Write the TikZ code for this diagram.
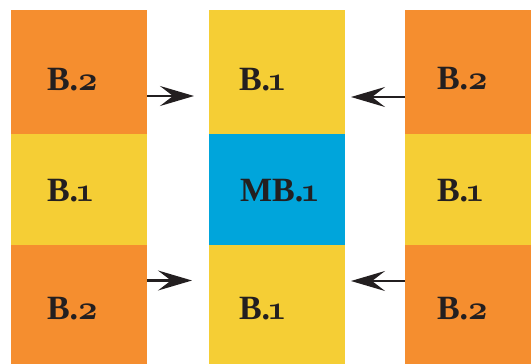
\documentclass[tikz,border=0pt]{standalone}
\usepackage{fontspec}
\setmainfont{Liberation Serif}
\usepackage{tikz}
\usetikzlibrary{arrows.meta}
\definecolor{blkorange}{RGB}{245,142,47}
\definecolor{blkyellow}{RGB}{245,206,53}
\definecolor{blkblue}{RGB}{0,165,219}
\definecolor{inkdark}{RGB}{35,31,32}
\font\osnfont=cmmib10 at 34pt
\newcommand{\osn}[1]{{\osnfont #1}}
\newcommand{\osnone}{\kern-3pt{\osnfont 1}\kern-3pt}

\begin{document}
\begin{tikzpicture}[x=1pt,y=-1pt]
        \tikzstyle{every node} = [inner sep=0pt, outer sep=0pt]
        \tikzstyle{blk} = [rectangle, minimum width=136pt]
        \tikzstyle{lbl} = [anchor=base west, text=inkdark, font=\fontsize{34}{40}\selectfont\bfseries]
        \tikzstyle{arr} = [draw=inkdark, line width=2.6pt, -{Stealth[length=34pt, width=20pt, inset=13pt]}]
        \useasboundingbox (0,0) rectangle (531,364);
        % blocks
        \node[blk, fill=blkorange, minimum height=124pt] (tl) at (79,72) {};
        \node[blk, fill=blkyellow, minimum height=111pt] (ml) at (79,189.5) {};
        \node[blk, fill=blkorange, minimum height=119pt] (bl) at (79,304.5) {};
        \node[blk, fill=blkyellow, minimum height=124pt] (tm) at (277,72) {};
        \node[blk, fill=blkblue, minimum height=111pt] (mm) at (277,189.5) {};
        \node[blk, fill=blkyellow, minimum height=119pt] (bm) at (277,304.5) {};
        \node[blk, fill=blkorange, minimum height=124pt, minimum width=126pt] (tr) at (468,72) {};
        \node[blk, fill=blkyellow, minimum height=111pt, minimum width=126pt] (mr) at (468,189.5) {};
        \node[blk, fill=blkorange, minimum height=119pt, minimum width=126pt] (br) at (468,304.5) {};
        % labels
        \node[lbl] (tltext) at (47,90) {B.\osn{2}};
        \node[lbl] (mltext) at (47,201) {B.\osnone};
        \node[lbl] (bltext) at (47,319) {B.\osn{2}};
        \node[lbl] (tmtext) at (239,90) {B.\osnone};
        \node[lbl] (mmtext) at (240,201) {MB.\osnone};
        \node[lbl] (bmtext) at (239,319) {B.\osnone};
        \node[lbl] (trtext) at (437,89) {B.\osn{2}};
        \node[lbl] (mrtext) at (437,201) {B.\osnone};
        \node[lbl] (brtext) at (437,319) {B.\osn{2}};
        % arrows
        \foreach \from/\fa/\to/\ta/\dy/\gap in {tl/east/tm/west/-24/15, bl/east/bm/west/24/17, tr/west/tm/east/-25/6, br/west/bm/east/23.5/6}
            \draw[arr, shorten >=\gap pt] ([yshift=\dy pt]\from.\fa) -- ([yshift=\dy pt]\to.\ta);
\end{tikzpicture}
\end{document}
